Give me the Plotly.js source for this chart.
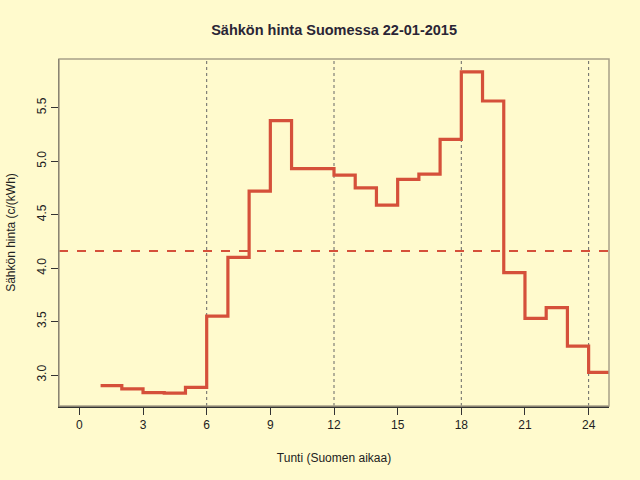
<!DOCTYPE html>
<html>
<head>
<meta charset="utf-8">
<script src="https://cdn.plot.ly/plotly-3.0.1.min.js"></script>
<style>
  html, body { margin: 0; padding: 0; background: #FFFACD; }
  #chart { width: 640px; height: 480px; }
</style>
</head>
<body>
<div id="chart"></div>
<script>
// tuntihinnat 22-01-2015, c/kWh
var hours = [1, 2, 3, 4, 5, 6, 7, 8, 9, 10, 11, 12, 13, 14, 15, 16, 17, 18, 19, 20, 21, 22, 23, 24];
var prices = [2.90, 2.87, 2.835, 2.83, 2.885, 3.55, 4.10, 4.72, 5.38, 4.93, 4.93, 4.87,
              4.75, 4.59, 4.83, 4.88, 5.205, 5.835, 5.563, 3.957, 3.53, 3.63, 3.27, 3.025];
var xTicks = [0, 3, 6, 9, 12, 15, 18, 21, 24];
var yTicks = [3.0, 3.5, 4.0, 4.5, 5.0, 5.5];
var markHours = [6, 12, 18, 24];

var lineColor = '#D5503A';
var bg = '#FFFACD';

// type="s" -> viimeinen tunti jatkuu yhden tunnin eteenpäin
var stepX = hours.concat([hours[hours.length - 1] + 1]);
var stepY = prices.concat([prices[prices.length - 1]]);

var mean = prices.reduce(function (a, b) { return a + b; }, 0) / prices.length;

var shapes = markHours.map(function (h) {
    return {
        type: 'line', xref: 'x', yref: 'paper', x0: h, x1: h, y0: 0, y1: 1,
        line: { color: '#666', width: 1, dash: 'dot' }, layer: 'below'
    };
});
shapes.push({
    type: 'line', xref: 'paper', yref: 'y', x0: 0, x1: 1, y0: mean, y1: mean,
    line: { color: lineColor, width: 2, dash: 'dash' }
});
shapes.push({
    type: 'rect', xref: 'paper', yref: 'paper', x0: 0, x1: 1, y0: 0, y1: 1,
    line: { color: '#A8A088', width: 1.5 }
});

var trace = {
    x: stepX,
    y: stepY,
    mode: 'lines',
    type: 'scatter',
    line: { shape: 'hv', color: lineColor, width: 3.2 },
    hoverinfo: 'x+y'
};

var layout = {
    width: 640,
    height: 480,
    paper_bgcolor: bg,
    plot_bgcolor: bg,
    showlegend: false,
    font: { family: 'Liberation Sans, Arial, sans-serif', size: 12, color: '#222' },
    title: {
        text: '<b>Sähkön hinta Suomessa 22-01-2015</b>',
        font: { size: 14.5, color: '#2a2535' },
        x: 0.522, xanchor: 'center', y: 0.937, yanchor: 'middle'
    },
    margin: { l: 59, r: 31, t: 59, b: 74 },
    xaxis: {
        range: [-0.96, 24.96],
        tickvals: xTicks,
        ticktext: xTicks.map(String),
        ticks: 'outside', ticklen: 7, tickcolor: '#333', tickwidth: 1,
        showgrid: false, zeroline: false,
        showline: true, linecolor: '#333', linewidth: 1.5,
        tickfont: { size: 12, color: '#222' },
        title: { text: 'Tunti (Suomen aikaa)', font: { size: 12, color: '#222' }, standoff: 22 }
    },
    yaxis: {
        range: [2.71, 5.956],
        tickvals: yTicks,
        ticktext: yTicks.map(function (v) { return v.toFixed(1); }),
        tickangle: -90,
        ticks: 'outside', ticklen: 7, tickcolor: '#333', tickwidth: 1,
        showgrid: false, zeroline: false,
        showline: true, linecolor: '#333', linewidth: 1.5,
        tickfont: { size: 12, color: '#222' },
        title: { text: 'Sähkön hinta (c/(kWh)', font: { size: 12, color: '#222' }, standoff: 16 }
    },
    shapes: shapes,
    hovermode: 'closest'
};

Plotly.newPlot('chart', [trace], layout, { displayModeBar: false, staticPlot: true });
</script>
</body>
</html>
